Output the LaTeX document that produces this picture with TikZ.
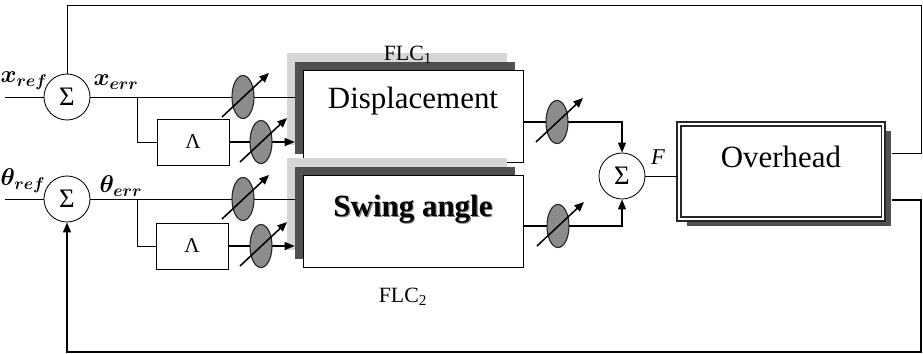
\documentclass[tikz,border=0pt]{standalone}
\usepackage{fontspec}
\setmainfont{Liberation Serif}
\usepackage{tikz}
\usetikzlibrary{arrows.meta,positioning,shadows,shapes.geometric,backgrounds}
\definecolor{band}{HTML}{505050}
\definecolor{haze}{HTML}{D6D6D6}
\definecolor{knobfill}{HTML}{8C8C8C}
\newcommand{\castshadow}[1]{\makebox[0pt][l]{\hspace{0.8pt}\raisebox{-0.8pt}{\color{black!50}#1}}#1}

\begin{document}
\begin{tikzpicture}[
  x=0.025cm,y=-0.025cm,line width=0.6pt,
  sum/.style={draw,circle,fill=white,minimum size=1.15cm,inner sep=0pt,font=\fontsize{19}{19}\selectfont},
  lam/.style={draw,fill=white,minimum width=1.8cm,minimum height=1.15cm,inner sep=0pt,font=\fontsize{15}{15}\selectfont},
  flc/.style={draw,fill=white,minimum width=5.5cm,minimum height=2.3cm,inner sep=0pt,
    general shadow={shadow xshift=-0.4cm,shadow yshift=0.42cm,fill=haze},
    general shadow={shadow xshift=-0.2cm,shadow yshift=0.2cm,fill=band}},
  plant/.style={draw=black!85,double=white,double distance=1.6pt,line width=1pt,fill=white,
    minimum width=5.1cm,minimum height=2.375cm,inner sep=0pt,
    general shadow={shadow xshift=0.2cm,shadow yshift=-0.175cm,fill=band}},
  knob/.style={draw=black!85,ellipse,fill=knobfill,minimum width=0.55cm,minimum height=1.075cm,inner sep=0pt,line width=0.8pt},
  big/.style={inner sep=0pt,font=\fontsize{22}{22}\selectfont},
  lbl/.style={inner sep=0pt,font=\fontsize{15.5}{15.5}\selectfont},
  sig/.style={inner sep=0pt,font=\fontsize{17}{17}\selectfont\boldmath},
  arr/.style={-{Triangle[length=2.5mm,width=2mm]},line width=1pt},
  tune/.style={-{Triangle[length=2.4mm,width=2mm]},line width=1.1pt}]
  \useasboundingbox (0,0) rectangle (923,354);
  % blocks
  \node[sum] (s1) at (67,97) {Σ};
  \node[sum] (s2) at (67,199) {Σ};
  \node[lam] (l1) at (193,142) {Λ};
  \node[lam] (l2) at (192,246) {Λ};
  \begin{scope}[on background layer]
    \node[flc] (disp) at (413,116) {};
    \node[flc] (swing) at (413,221) {};
  \end{scope}
  \node[sum] (s3) at (622,176) {Σ};
  \node[plant] (ovh) at (781,171.5) {};
  % texts
  \node[big,below=0.42cm of disp.north] (disptxt) {Displacement};
  \node[big,font=\fontsize{22}{22}\selectfont\bfseries,below=0.5cm of swing.north] (swingtxt) {\castshadow{Swing angle}};
  \node[big,below=0.57cm of ovh.north] (ovhtxt) {Overhead};
  \node[lbl] (flc1) at (408,55) {FLC\textsubscript{1}};
  \node[lbl,below=0.5cm of swing,xshift=-0.25cm] (flc2) {FLC\textsubscript{2}};
  \node[sig] (xref) at (24,81) {$x_{ref}$};
  \node[sig] (xerr) at (116,82) {$x_{err}$};
  \node[sig] (thref) at (23,181) {$\theta_{ref}$};
  \node[sig] (therr) at (121,186) {$\theta_{err}$};
  \node[lbl,font=\fontsize{16}{16}\selectfont\itshape] (force) at (658,157) {F};
  % free ends and corners
  \coordinate (xin) at (5,97);
  \coordinate (thin) at (5,199);
  \coordinate (b1) at (137,97);
  \coordinate (b2) at (137,199);
  \coordinate (rt) at (921,5);
  \coordinate (rb) at (921,352);
  \coordinate (dispin) at ([xshift=-0.2cm]disp.west);
  \coordinate (swingin) at ([xshift=-0.2cm]swing.west);
  \coordinate (o1) at ([xshift=0.2cm,yshift=0.44cm]ovh.east);
  \coordinate (o2) at ([xshift=0.2cm,yshift=-0.71cm]ovh.east);
  % connectors
  \draw (xin) -- (s1);
  \draw (thin) -- (s2);
  \draw (s1) -- (dispin |- s1);
  \draw (s2) -- (swingin |- s2);
  \draw (b1) |- (l1);
  \draw (b2) |- (l2);
  \draw[arr] (l1) -- (dispin |- l1);
  \draw[arr] (l2) -- (swingin |- l2);
  \draw[arr] ([yshift=-0.15cm]disp.east) -| (s3);
  \draw[arr] ([yshift=-0.13cm]swing.east) -| (s3);
  \draw (s3) -- (s3 -| ovh.west);
  \draw (o1) -| (rt) -| (s1);
  \draw[arr] (o2) -| (rb) -| (s2);
  % tunable gains
  \node[knob] (w1) at (243,97) {};
  \node[knob] (w2) at (261,142) {};
  \node[knob] (w3) at (243,199) {};
  \node[knob] (w4) at (261,246) {};
  \node[knob] (w5) at (557,122) {};
  \node[knob] (w6) at (558,226) {};
  \draw[tune] ([shift={(-21,20)}]w1.center) -- ([shift={(26,-24)}]w1.center);
  \draw[tune] ([shift={(-21,20)}]w2.center) -- ([shift={(26,-24)}]w2.center);
  \draw[tune] ([shift={(-21,20)}]w3.center) -- ([shift={(26,-24)}]w3.center);
  \draw[tune] ([shift={(-21,20)}]w4.center) -- ([shift={(26,-24)}]w4.center);
  \draw[tune] ([shift={(-21,20)}]w5.center) -- ([shift={(26,-24)}]w5.center);
  \draw[tune] ([shift={(-21,20)}]w6.center) -- ([shift={(26,-24)}]w6.center);
\end{tikzpicture}
\end{document}
